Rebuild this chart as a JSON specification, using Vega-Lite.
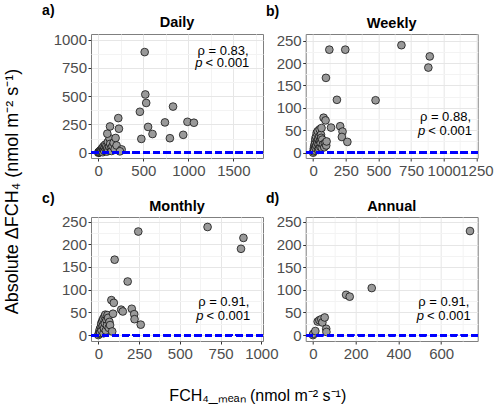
{
  "$schema": "https://vega.github.io/schema/vega-lite/v6.json",
  "background": "white",
  "padding": {"left": 3, "top": 3, "right": 0, "bottom": 0},
  "config": {
    "font": "Liberation Sans",
    "view": {"stroke": "#7f7f7f", "strokeWidth": 1},
    "axis": {
      "labelFont": "Liberation Sans",
      "labelFontSize": 15,
      "labelColor": "#4d4d4d",
      "labelOverlap": false,
      "labelFlush": false,
      "labelBound": false,
      "format": "d",
      "tickColor": "#333333",
      "tickSize": 3,
      "domain": false,
      "gridWidth": 1,
      "titleFont": "Liberation Sans",
      "titleColor": "black"
    },
    "axisX": {"labelPadding": 2},
    "axisY": {"labelPadding": 1.5},
    "title": {"font": "Liberation Sans", "fontSize": 14.5, "fontWeight": "bold", "color": "black", "anchor": "middle", "baseline": "alphabetic"},
    "text": {"font": "Liberation Sans", "color": "black"}
  },
  "datasets": {
    "daily": [
      {"fch4_mean": 0, "abs_dfch4": 0}, {"fch4_mean": 4, "abs_dfch4": 6}, {"fch4_mean": 9, "abs_dfch4": 2},
      {"fch4_mean": 14, "abs_dfch4": 12}, {"fch4_mean": 18, "abs_dfch4": 4}, {"fch4_mean": 23, "abs_dfch4": 20},
      {"fch4_mean": 28, "abs_dfch4": 8}, {"fch4_mean": 33, "abs_dfch4": 28}, {"fch4_mean": 38, "abs_dfch4": 14},
      {"fch4_mean": 44, "abs_dfch4": 42}, {"fch4_mean": 50, "abs_dfch4": 4}, {"fch4_mean": 55, "abs_dfch4": 32},
      {"fch4_mean": 60, "abs_dfch4": 58}, {"fch4_mean": 66, "abs_dfch4": 16}, {"fch4_mean": 72, "abs_dfch4": 46},
      {"fch4_mean": 78, "abs_dfch4": 72}, {"fch4_mean": 84, "abs_dfch4": 26}, {"fch4_mean": 90, "abs_dfch4": 60},
      {"fch4_mean": 96, "abs_dfch4": 10}, {"fch4_mean": 100, "abs_dfch4": 38}, {"fch4_mean": 106, "abs_dfch4": 95},
      {"fch4_mean": 112, "abs_dfch4": 22}, {"fch4_mean": 120, "abs_dfch4": 52}, {"fch4_mean": 125, "abs_dfch4": 128},
      {"fch4_mean": 132, "abs_dfch4": 78}, {"fch4_mean": 140, "abs_dfch4": 40}, {"fch4_mean": 148, "abs_dfch4": 15},
      {"fch4_mean": 158, "abs_dfch4": 58}, {"fch4_mean": 170, "abs_dfch4": 88}, {"fch4_mean": 182, "abs_dfch4": 32},
      {"fch4_mean": 192, "abs_dfch4": 130}, {"fch4_mean": 203, "abs_dfch4": 64}, {"fch4_mean": 100, "abs_dfch4": 168},
      {"fch4_mean": 130, "abs_dfch4": 232}, {"fch4_mean": 222, "abs_dfch4": 306}, {"fch4_mean": 229, "abs_dfch4": 212},
      {"fch4_mean": 259, "abs_dfch4": 29}, {"fch4_mean": 240, "abs_dfch4": 12}, {"fch4_mean": 515, "abs_dfch4": 890},
      {"fch4_mean": 522, "abs_dfch4": 515}, {"fch4_mean": 532, "abs_dfch4": 440}, {"fch4_mean": 462, "abs_dfch4": 362},
      {"fch4_mean": 553, "abs_dfch4": 228}, {"fch4_mean": 602, "abs_dfch4": 165}, {"fch4_mean": 478, "abs_dfch4": 122},
      {"fch4_mean": 830, "abs_dfch4": 408}, {"fch4_mean": 740, "abs_dfch4": 268}, {"fch4_mean": 795, "abs_dfch4": 128},
      {"fch4_mean": 990, "abs_dfch4": 273}, {"fch4_mean": 1062, "abs_dfch4": 265}, {"fch4_mean": 943, "abs_dfch4": 158}
    ],
    "weekly": [
      {"fch4_mean": 0, "abs_dfch4": 0}, {"fch4_mean": 3, "abs_dfch4": 3}, {"fch4_mean": 5, "abs_dfch4": 9},
      {"fch4_mean": 8, "abs_dfch4": 14}, {"fch4_mean": 10, "abs_dfch4": 5}, {"fch4_mean": 12, "abs_dfch4": 19},
      {"fch4_mean": 15, "abs_dfch4": 24}, {"fch4_mean": 17, "abs_dfch4": 31}, {"fch4_mean": 20, "abs_dfch4": 10},
      {"fch4_mean": 22, "abs_dfch4": 36}, {"fch4_mean": 25, "abs_dfch4": 16}, {"fch4_mean": 27, "abs_dfch4": 44},
      {"fch4_mean": 30, "abs_dfch4": 26}, {"fch4_mean": 33, "abs_dfch4": 21}, {"fch4_mean": 35, "abs_dfch4": 48},
      {"fch4_mean": 38, "abs_dfch4": 6}, {"fch4_mean": 40, "abs_dfch4": 31}, {"fch4_mean": 42, "abs_dfch4": 18},
      {"fch4_mean": 45, "abs_dfch4": 9}, {"fch4_mean": 48, "abs_dfch4": 36}, {"fch4_mean": 50, "abs_dfch4": 52},
      {"fch4_mean": 52, "abs_dfch4": 26}, {"fch4_mean": 55, "abs_dfch4": 13}, {"fch4_mean": 58, "abs_dfch4": 21},
      {"fch4_mean": 60, "abs_dfch4": 40}, {"fch4_mean": 62, "abs_dfch4": 33}, {"fch4_mean": 64, "abs_dfch4": 55},
      {"fch4_mean": 66, "abs_dfch4": 11}, {"fch4_mean": 70, "abs_dfch4": 29}, {"fch4_mean": 75, "abs_dfch4": 18},
      {"fch4_mean": 80, "abs_dfch4": 78}, {"fch4_mean": 85, "abs_dfch4": 12}, {"fch4_mean": 90, "abs_dfch4": 21},
      {"fch4_mean": 95, "abs_dfch4": 72}, {"fch4_mean": 100, "abs_dfch4": 16}, {"fch4_mean": 103, "abs_dfch4": 25},
      {"fch4_mean": 124, "abs_dfch4": 230}, {"fch4_mean": 137, "abs_dfch4": 56}, {"fch4_mean": 98, "abs_dfch4": 167},
      {"fch4_mean": 182, "abs_dfch4": 118}, {"fch4_mean": 207, "abs_dfch4": 59}, {"fch4_mean": 225, "abs_dfch4": 47},
      {"fch4_mean": 220, "abs_dfch4": 35}, {"fch4_mean": 262, "abs_dfch4": 24}, {"fch4_mean": 246, "abs_dfch4": 230},
      {"fch4_mean": 478, "abs_dfch4": 117}, {"fch4_mean": 676, "abs_dfch4": 240}, {"fch4_mean": 893, "abs_dfch4": 215},
      {"fch4_mean": 882, "abs_dfch4": 190}
    ],
    "monthly": [
      {"fch4_mean": 0, "abs_dfch4": 0}, {"fch4_mean": 3, "abs_dfch4": 3}, {"fch4_mean": 6, "abs_dfch4": 8},
      {"fch4_mean": 9, "abs_dfch4": 13}, {"fch4_mean": 12, "abs_dfch4": 5}, {"fch4_mean": 15, "abs_dfch4": 18},
      {"fch4_mean": 18, "abs_dfch4": 26}, {"fch4_mean": 20, "abs_dfch4": 10}, {"fch4_mean": 24, "abs_dfch4": 31},
      {"fch4_mean": 27, "abs_dfch4": 20}, {"fch4_mean": 30, "abs_dfch4": 36}, {"fch4_mean": 32, "abs_dfch4": 4},
      {"fch4_mean": 35, "abs_dfch4": 15}, {"fch4_mean": 38, "abs_dfch4": 41}, {"fch4_mean": 40, "abs_dfch4": 26},
      {"fch4_mean": 43, "abs_dfch4": 45}, {"fch4_mean": 46, "abs_dfch4": 10}, {"fch4_mean": 50, "abs_dfch4": 33},
      {"fch4_mean": 53, "abs_dfch4": 21}, {"fch4_mean": 56, "abs_dfch4": 44}, {"fch4_mean": 60, "abs_dfch4": 38},
      {"fch4_mean": 64, "abs_dfch4": 16}, {"fch4_mean": 68, "abs_dfch4": 29}, {"fch4_mean": 72, "abs_dfch4": 22},
      {"fch4_mean": 80, "abs_dfch4": 77}, {"fch4_mean": 85, "abs_dfch4": 8}, {"fch4_mean": 90, "abs_dfch4": 47},
      {"fch4_mean": 95, "abs_dfch4": 71}, {"fch4_mean": 100, "abs_dfch4": 166}, {"fch4_mean": 140, "abs_dfch4": 56},
      {"fch4_mean": 150, "abs_dfch4": 52}, {"fch4_mean": 180, "abs_dfch4": 118}, {"fch4_mean": 205, "abs_dfch4": 58},
      {"fch4_mean": 220, "abs_dfch4": 46}, {"fch4_mean": 222, "abs_dfch4": 35}, {"fch4_mean": 245, "abs_dfch4": 228},
      {"fch4_mean": 260, "abs_dfch4": 23}, {"fch4_mean": 670, "abs_dfch4": 238}, {"fch4_mean": 875, "abs_dfch4": 190},
      {"fch4_mean": 890, "abs_dfch4": 214}
    ],
    "annual": [
      {"fch4_mean": 0, "abs_dfch4": 0}, {"fch4_mean": 2, "abs_dfch4": 3}, {"fch4_mean": 11, "abs_dfch4": 9},
      {"fch4_mean": 22, "abs_dfch4": 30}, {"fch4_mean": 30, "abs_dfch4": 33}, {"fch4_mean": 39, "abs_dfch4": 35},
      {"fch4_mean": 44, "abs_dfch4": 28}, {"fch4_mean": 55, "abs_dfch4": 39}, {"fch4_mean": 62, "abs_dfch4": 14},
      {"fch4_mean": 63, "abs_dfch4": 7}, {"fch4_mean": 155, "abs_dfch4": 89}, {"fch4_mean": 172, "abs_dfch4": 85},
      {"fch4_mean": 275, "abs_dfch4": 104}, {"fch4_mean": 735, "abs_dfch4": 230}
    ]
  },
  "columns": 2,
  "bounds": "flush",
  "spacing": {"row": 59, "column": 42.7},
  "concat": [
    {
      "title": {"text": "Daily", "offset": -27},
      "width": 172,
      "height": 124,
      "data": {"name": "daily"},
      "resolve": {"axis": {"x": "independent", "y": "independent"}},
      "layer": [
        {
          "mark": {"type": "circle", "size": 60, "fill": "#999999", "stroke": "#000000", "strokeWidth": 0.7, "opacity": 1},
          "encoding": {
            "x": {"field": "fch4_mean", "type": "quantitative",
              "scale": {"domain": [-81, 1829], "nice": false, "zero": false},
              "axis": {"values": [0, 250, 500, 750, 1000, 1250, 1500, 1750],
                "labelExpr": "datum.value % 500 === 0 ? datum.label : ''",
                "tickOpacity": {"condition": {"test": "datum.value % 500 === 0", "value": 1}, "value": 0},
                "gridColor": {"condition": {"test": "datum.value % 500 === 0", "value": "#e6e6e6"}, "value": "#f3f3f3"},
                "title": "a)", "titleAngle": 0, "titleX": -49.4, "titleY": -143.3, "titleAlign": "left", "titleBaseline": "alphabetic",
                "titleFontSize": 14, "titleFontWeight": "bold"}},
            "y": {"field": "abs_dfch4", "type": "quantitative",
              "scale": {"domain": [-47, 1050], "nice": false, "zero": false},
              "axis": {"values": [0, 125, 250, 375, 500, 625, 750, 875, 1000],
                "labelExpr": "datum.value % 250 === 0 ? datum.label : ''",
                "tickOpacity": {"condition": {"test": "datum.value % 250 === 0", "value": 1}, "value": 0},
                "gridColor": {"condition": {"test": "datum.value % 250 === 0", "value": "#e6e6e6"}, "value": "#f3f3f3"},
                "title": "Absolute ΔFCH₄ (nmol m⁻² s⁻¹)", "titleAngle": 270, "titleX": -78.2, "titleY": 157, "titleAlign": "center", "titleBaseline": "middle",
                "titleFontSize": 18, "titleFontWeight": "normal"}}
          }
        },
        {"mark": {"type": "rule", "color": "#0000ff", "strokeWidth": 2.2, "strokeDash": [6.5, 3.8]}, "encoding": {"y": {"datum": 0, "axis": null}}},
        {"data": {"values": [{}]}, "mark": {"type": "text", "fontSize": 13, "align": "center", "baseline": "middle"},
          "encoding": {"x": {"datum": 1386, "axis": null}, "y": {"datum": 903, "axis": null}, "text": {"value": "ρ = 0.83,"}}},
        {"data": {"values": [{}]}, "mark": {"type": "text", "fontSize": 13, "fontStyle": "italic", "align": "right", "baseline": "middle", "dx": -1.5},
          "encoding": {"x": {"datum": 1175, "axis": null}, "y": {"datum": 794, "axis": null}, "text": {"value": "p"}}},
        {"data": {"values": [{}]}, "mark": {"type": "text", "fontSize": 13, "align": "left", "baseline": "middle", "dx": 1.5},
          "encoding": {"x": {"datum": 1175, "axis": null}, "y": {"datum": 794, "axis": null}, "text": {"value": "< 0.001"}}}
      ]
    },
    {
      "title": {"text": "Weekly", "offset": -27},
      "width": 172,
      "height": 124,
      "data": {"name": "weekly"},
      "resolve": {"axis": {"x": "independent", "y": "independent"}},
      "layer": [
        {
          "mark": {"type": "circle", "size": 60, "fill": "#999999", "stroke": "#000000", "strokeWidth": 0.7, "opacity": 1},
          "encoding": {
            "x": {"field": "fch4_mean", "type": "quantitative",
              "scale": {"domain": [-57, 1260], "nice": false, "zero": false},
              "axis": {"title": null, "values": [0, 125, 250, 375, 500, 625, 750, 875, 1000, 1125, 1250],
                "labelExpr": "datum.value % 250 === 0 ? datum.label : ''",
                "tickOpacity": {"condition": {"test": "datum.value % 250 === 0", "value": 1}, "value": 0},
                "gridColor": {"condition": {"test": "datum.value % 250 === 0", "value": "#e6e6e6"}, "value": "#f3f3f3"}}},
            "y": {"field": "abs_dfch4", "type": "quantitative",
              "scale": {"domain": [-12, 265], "nice": false, "zero": false},
              "axis": {"title": "b)", "titleAngle": 0, "titleX": -40.2, "titleY": -19, "titleAlign": "left", "titleBaseline": "alphabetic", "titleFontSize": 14, "titleFontWeight": "bold",
                "values": [0, 25, 50, 75, 100, 125, 150, 175, 200, 225, 250],
                "labelExpr": "datum.value % 50 === 0 ? datum.label : ''",
                "tickOpacity": {"condition": {"test": "datum.value % 50 === 0", "value": 1}, "value": 0},
                "gridColor": {"condition": {"test": "datum.value % 50 === 0", "value": "#e6e6e6"}, "value": "#f3f3f3"}}}
          }
        },
        {"mark": {"type": "rule", "color": "#0000ff", "strokeWidth": 2.2, "strokeDash": [6.5, 3.8]}, "encoding": {"y": {"datum": 0, "axis": null}}},
        {"data": {"values": [{}]}, "mark": {"type": "text", "fontSize": 13, "align": "center", "baseline": "middle"},
          "encoding": {"x": {"datum": 1013, "axis": null}, "y": {"datum": 79.5, "axis": null}, "text": {"value": "ρ = 0.88,"}}},
        {"data": {"values": [{}]}, "mark": {"type": "text", "fontSize": 13, "fontStyle": "italic", "align": "right", "baseline": "middle", "dx": -1.5},
          "encoding": {"x": {"datum": 870, "axis": null}, "y": {"datum": 48.3, "axis": null}, "text": {"value": "p"}}},
        {"data": {"values": [{}]}, "mark": {"type": "text", "fontSize": 13, "align": "left", "baseline": "middle", "dx": 1.5},
          "encoding": {"x": {"datum": 870, "axis": null}, "y": {"datum": 48.3, "axis": null}, "text": {"value": "< 0.001"}}}
      ]
    },
    {
      "title": {"text": "Monthly", "offset": -23.7},
      "width": 172,
      "height": 124,
      "data": {"name": "monthly"},
      "resolve": {"axis": {"x": "independent", "y": "independent"}},
      "layer": [
        {
          "mark": {"type": "circle", "size": 60, "fill": "#999999", "stroke": "#000000", "strokeWidth": 0.7, "opacity": 1},
          "encoding": {
            "x": {"field": "fch4_mean", "type": "quantitative",
              "scale": {"domain": [-45, 1010], "nice": false, "zero": false},
              "axis": {"values": [0, 125, 250, 375, 500, 625, 750, 875, 1000],
                "labelExpr": "datum.value % 250 === 0 ? datum.label : ''",
                "tickOpacity": {"condition": {"test": "datum.value % 250 === 0", "value": 1}, "value": 0},
                "gridColor": {"condition": {"test": "datum.value % 250 === 0", "value": "#e6e6e6"}, "value": "#f3f3f3"},
                "title": "FCH₄_ₘₑₐₙ (nmol m⁻² s⁻¹)", "titleX": 166.3, "titleY": 54, "titleAlign": "center", "titleBaseline": "middle",
                "titleFontSize": 16, "titleFontWeight": "normal"}},
            "y": {"field": "abs_dfch4", "type": "quantitative",
              "scale": {"domain": [-13, 260], "nice": false, "zero": false},
              "axis": {"title": "c)", "titleAngle": 0, "titleX": -49.4, "titleY": -15, "titleAlign": "left", "titleBaseline": "alphabetic", "titleFontSize": 14, "titleFontWeight": "bold",
                "values": [0, 25, 50, 75, 100, 125, 150, 175, 200, 225, 250],
                "labelExpr": "datum.value % 50 === 0 ? datum.label : ''",
                "tickOpacity": {"condition": {"test": "datum.value % 50 === 0", "value": 1}, "value": 0},
                "gridColor": {"condition": {"test": "datum.value % 50 === 0", "value": "#e6e6e6"}, "value": "#f3f3f3"}}}
          }
        },
        {"mark": {"type": "rule", "color": "#0000ff", "strokeWidth": 2.2, "strokeDash": [6.5, 3.8]}, "encoding": {"y": {"datum": 0, "axis": null}}},
        {"data": {"values": [{}]}, "mark": {"type": "text", "fontSize": 13, "align": "center", "baseline": "middle"},
          "encoding": {"x": {"datum": 769, "axis": null}, "y": {"datum": 72.2, "axis": null}, "text": {"value": "ρ = 0.91,"}}},
        {"data": {"values": [{}]}, "mark": {"type": "text", "fontSize": 13, "fontStyle": "italic", "align": "right", "baseline": "middle", "dx": -1.5},
          "encoding": {"x": {"datum": 654, "axis": null}, "y": {"datum": 42.6, "axis": null}, "text": {"value": "p"}}},
        {"data": {"values": [{}]}, "mark": {"type": "text", "fontSize": 13, "align": "left", "baseline": "middle", "dx": 1.5},
          "encoding": {"x": {"datum": 654, "axis": null}, "y": {"datum": 42.6, "axis": null}, "text": {"value": "< 0.001"}}}
      ]
    },
    {
      "title": {"text": "Annual", "offset": -23.7},
      "width": 172,
      "height": 124,
      "data": {"name": "annual"},
      "resolve": {"axis": {"x": "independent", "y": "independent"}},
      "layer": [
        {
          "mark": {"type": "circle", "size": 60, "fill": "#999999", "stroke": "#000000", "strokeWidth": 0.7, "opacity": 1},
          "encoding": {
            "x": {"field": "fch4_mean", "type": "quantitative",
              "scale": {"domain": [-34, 771], "nice": false, "zero": false},
              "axis": {"title": null, "values": [0, 100, 200, 300, 400, 500, 600, 700],
                "labelExpr": "datum.value % 200 === 0 ? datum.label : ''",
                "tickOpacity": {"condition": {"test": "datum.value % 200 === 0", "value": 1}, "value": 0},
                "gridColor": {"condition": {"test": "datum.value % 200 === 0", "value": "#e6e6e6"}, "value": "#f3f3f3"}}},
            "y": {"field": "abs_dfch4", "type": "quantitative",
              "scale": {"domain": [-13, 261], "nice": false, "zero": false},
              "axis": {"title": "d)", "titleAngle": 0, "titleX": -40.2, "titleY": -15, "titleAlign": "left", "titleBaseline": "alphabetic", "titleFontSize": 14, "titleFontWeight": "bold",
                "values": [0, 25, 50, 75, 100, 125, 150, 175, 200, 225, 250],
                "labelExpr": "datum.value % 50 === 0 ? datum.label : ''",
                "tickOpacity": {"condition": {"test": "datum.value % 50 === 0", "value": 1}, "value": 0},
                "gridColor": {"condition": {"test": "datum.value % 50 === 0", "value": "#e6e6e6"}, "value": "#f3f3f3"}}}
          }
        },
        {"mark": {"type": "rule", "color": "#0000ff", "strokeWidth": 2.2, "strokeDash": [6.5, 3.8]}, "encoding": {"y": {"datum": 0, "axis": null}}},
        {"data": {"values": [{}]}, "mark": {"type": "text", "fontSize": 13, "align": "center", "baseline": "middle"},
          "encoding": {"x": {"datum": 612.7, "axis": null}, "y": {"datum": 72.5, "axis": null}, "text": {"value": "ρ = 0.91,"}}},
        {"data": {"values": [{}]}, "mark": {"type": "text", "fontSize": 13, "fontStyle": "italic", "align": "right", "baseline": "middle", "dx": -1.5},
          "encoding": {"x": {"datum": 527, "axis": null}, "y": {"datum": 42.8, "axis": null}, "text": {"value": "p"}}},
        {"data": {"values": [{}]}, "mark": {"type": "text", "fontSize": 13, "align": "left", "baseline": "middle", "dx": 1.5},
          "encoding": {"x": {"datum": 527, "axis": null}, "y": {"datum": 42.8, "axis": null}, "text": {"value": "< 0.001"}}}
      ]
    }
  ]
}
